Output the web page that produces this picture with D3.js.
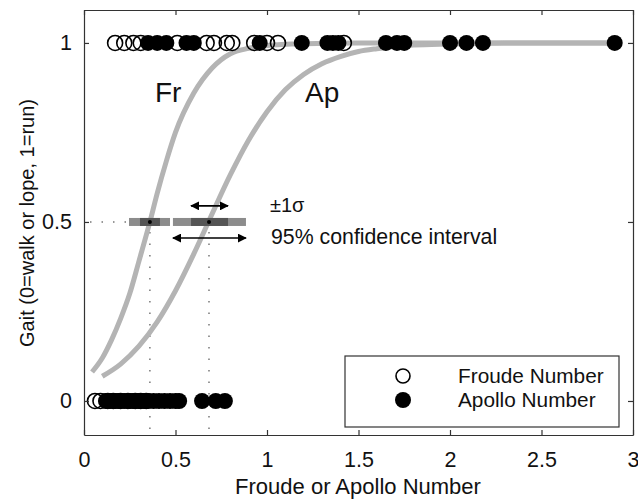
<!DOCTYPE html>
<html>
<head>
<meta charset="utf-8">
<script src="https://cdn.jsdelivr.net/npm/d3@7"></script>
<style>
body { margin: 0; background: #fff; }
text { font-family: "Liberation Sans", Arial, Helvetica, sans-serif; fill: #111; }
</style>
</head>
<body>
<div id="chart"></div>
<script>
// values
var xTicks = [0, 0.5, 1, 1.5, 2, 2.5, 3];
var yTicks = [0, 0.5, 1];

// gait = 1 (run)
var froudeRun = [0.17, 0.22, 0.27, 0.31, 0.51, 0.67, 0.71, 0.78, 0.81, 0.93, 1.0, 1.06, 1.42];
var apolloRun = [0.35, 0.40, 0.45, 0.56, 0.60, 0.96, 1.19, 1.33, 1.36, 1.39, 1.65, 1.71, 1.75, 2.0, 2.09, 2.18, 2.9];
// gait = 0 (walk or lope)
var froudeWalk = [0.06, 0.09, 0.13, 0.16, 0.2, 0.24, 0.28, 0.31, 0.34];
var apolloWalk = [0.12, 0.14, 0.17, 0.19, 0.22, 0.25, 0.27, 0.30, 0.33, 0.35, 0.38, 0.41, 0.44, 0.47, 0.50, 0.52, 0.645, 0.72, 0.77];

// fitted curves [x, gait]
var frCurve = [[0.044, 0.081], [0.1, 0.12], [0.15, 0.17], [0.2, 0.23], [0.25, 0.30], [0.3, 0.39],
    [0.36, 0.5], [0.4, 0.58], [0.45, 0.67], [0.5, 0.75], [0.6, 0.86], [0.7, 0.93], [0.8, 0.97],
    [0.9, 0.985], [1.0, 0.993], [1.2, 0.998], [1.5, 1], [2.9, 1]];
var apCurve = [[0.1, 0.069], [0.2, 0.103], [0.3, 0.153], [0.4, 0.221], [0.5, 0.308], [0.6, 0.411],
    [0.68, 0.5], [0.8, 0.632], [0.9, 0.729], [1.0, 0.808], [1.1, 0.869], [1.2, 0.912], [1.3, 0.942],
    [1.4, 0.962], [1.5, 0.976], [1.6, 0.984], [1.8, 0.994], [2.0, 0.997], [2.3, 1], [2.9, 1]];

// transition point: [95% low, 1 sigma low, mid, 1 sigma high, 95% high]
var frInterval = [0.246, 0.306, 0.36, 0.415, 0.47];
var apInterval = [0.486, 0.585, 0.683, 0.787, 0.885];

var legendLabels = ["Froude Number", "Apollo Number"];

var W = 638, H = 499;
var x = d3.scaleLinear().domain([0, 3]).range([84, 633]);
var y = d3.scaleLinear().domain([-0.095, 1.092]).range([435, 10]);

var svg = d3.select("#chart").append("svg")
    .attr("width", W)
    .attr("height", H);

var defs = svg.append("defs");
defs.append("marker")
    .attr("id", "arrow")
    .attr("viewBox", "0 0 10 10")
    .attr("refX", 9).attr("refY", 5)
    .attr("markerWidth", 9).attr("markerHeight", 9)
    .attr("markerUnits", "userSpaceOnUse")
    .attr("orient", "auto-start-reverse")
    .append("path")
    .attr("d", "M0,0 L10,5 L0,10 Z")
    .attr("fill", "#000");

// dotted guide lines
var guides = svg.append("g")
    .attr("stroke", "#777")
    .attr("stroke-width", 1.5)
    .attr("stroke-dasharray", "1.5,10")
    .attr("fill", "none");
guides.append("line")
    .attr("x1", x(0) + 6).attr("x2", x(frInterval[0]))
    .attr("y1", y(0.5)).attr("y2", y(0.5));
[frInterval[2], apInterval[2]].forEach(function (v) {
    guides.append("line")
        .attr("x1", x(v)).attr("x2", x(v))
        .attr("y1", y(0.5) + 10).attr("y2", y(-0.095));
});

// fitted curves
var line = d3.line()
    .x(function (d) { return x(d[0]); })
    .y(function (d) { return y(d[1]); })
    .curve(d3.curveMonotoneX);

[frCurve, apCurve].forEach(function (c) {
    svg.append("path")
        .datum(c)
        .attr("d", line)
        .attr("fill", "none")
        .attr("stroke", "#b4b4b4")
        .attr("stroke-width", 5);
});

// confidence bars
var barH = 8;
[frInterval, apInterval].forEach(function (iv) {
    svg.append("rect")
        .attr("x", x(iv[0])).attr("width", x(iv[4]) - x(iv[0]))
        .attr("y", y(0.5) - barH / 2).attr("height", barH)
        .attr("fill", "#8c8c8c");
    svg.append("rect")
        .attr("x", x(iv[1])).attr("width", x(iv[3]) - x(iv[1]))
        .attr("y", y(0.5) - barH / 2).attr("height", barH)
        .attr("fill", "#555");
    svg.append("circle")
        .attr("cx", x(iv[2])).attr("cy", y(0.5))
        .attr("r", 2)
        .attr("fill", "#000");
});

// data points
var R = 8;
function openPts(vals, g) {
    svg.append("g").selectAll("circle")
        .data(vals).enter().append("circle")
        .attr("cx", function (d) { return x(d); })
        .attr("cy", y(g))
        .attr("r", R - 0.5)
        .attr("fill", "none")
        .attr("stroke", "#000")
        .attr("stroke-width", 1.6);
}
function filledPts(vals, g) {
    svg.append("g").selectAll("circle")
        .data(vals).enter().append("circle")
        .attr("cx", function (d) { return x(d); })
        .attr("cy", y(g))
        .attr("r", R)
        .attr("fill", "#000");
}
openPts(froudeWalk, 0);
openPts(froudeRun, 1);
filledPts(apolloWalk, 0);
filledPts(apolloRun, 1);

// arrows
svg.append("line")
    .attr("x1", x(apInterval[1])).attr("x2", x(apInterval[3]))
    .attr("y1", y(0.545)).attr("y2", y(0.545))
    .attr("stroke", "#000").attr("stroke-width", 1.6)
    .attr("marker-start", "url(#arrow)").attr("marker-end", "url(#arrow)");
svg.append("line")
    .attr("x1", x(apInterval[0])).attr("x2", x(apInterval[4]))
    .attr("y1", y(0.455)).attr("y2", y(0.455))
    .attr("stroke", "#000").attr("stroke-width", 1.6)
    .attr("marker-start", "url(#arrow)").attr("marker-end", "url(#arrow)");

svg.append("text")
    .attr("x", 270).attr("y", 212)
    .style("font-size", "20px")
    .text("±1σ");
svg.append("text")
    .attr("x", 271).attr("y", 244)
    .style("font-size", "21.3px")
    .text("95% confidence interval");

// curve labels
svg.append("text").attr("x", 155).attr("y", 102).style("font-size", "28px").text("Fr");
svg.append("text").attr("x", 305).attr("y", 102).style("font-size", "28px").text("Ap");

// axes (ticks pointing inward, MATLAB style)
var fmt = d3.format("~g");
var axB = svg.append("g")
    .attr("transform", "translate(0," + y(-0.095) + ")")
    .call(d3.axisBottom(x).tickValues(xTicks).tickFormat(fmt).tickSize(-5).tickSizeOuter(0).tickPadding(17));
var axT = svg.append("g")
    .attr("transform", "translate(0," + y(1.092) + ")")
    .call(d3.axisTop(x).tickValues(xTicks).tickFormat("").tickSize(-5).tickSizeOuter(0));
var axL = svg.append("g")
    .attr("transform", "translate(" + x(0) + ",0)")
    .call(d3.axisLeft(y).tickValues(yTicks).tickFormat(fmt).tickSize(-5).tickSizeOuter(0).tickPadding(12));
var axR = svg.append("g")
    .attr("transform", "translate(" + x(3) + ",0)")
    .call(d3.axisRight(y).tickValues(yTicks).tickFormat("").tickSize(-5).tickSizeOuter(0));

[axB, axT, axL, axR].forEach(function (a) {
    a.selectAll("path, line").attr("stroke", "#333").attr("stroke-width", 1.2);
    a.selectAll("text").style("font-size", "21.5px").style("font-family", "Liberation Sans, Arial, sans-serif").attr("fill", "#111");
});

// axis titles
svg.append("text")
    .attr("x", 358).attr("y", 494)
    .attr("text-anchor", "middle")
    .style("font-size", "22px")
    .text("Froude or Apollo Number");
svg.append("text")
    .attr("transform", "translate(34,223) rotate(-90)")
    .attr("text-anchor", "middle")
    .style("font-size", "20px")
    .text("Gait (0=walk or lope, 1=run)");

// legend
var lg = svg.append("g");
lg.append("rect")
    .attr("x", 345).attr("y", 356)
    .attr("width", 274).attr("height", 71)
    .attr("fill", "#fff")
    .attr("stroke", "#333").attr("stroke-width", 1.2);
lg.append("circle")
    .attr("cx", 403).attr("cy", 376).attr("r", 7)
    .attr("fill", "none").attr("stroke", "#000").attr("stroke-width", 1.6);
lg.append("circle")
    .attr("cx", 403).attr("cy", 400).attr("r", 8)
    .attr("fill", "#000");
lg.selectAll("text.lab")
    .data(legendLabels).enter().append("text")
    .attr("class", "lab")
    .attr("x", 458)
    .attr("y", function (d, i) { return 383 + i * 24; })
    .style("font-size", "20.8px")
    .text(function (d) { return d; });
</script>
</body>
</html>
